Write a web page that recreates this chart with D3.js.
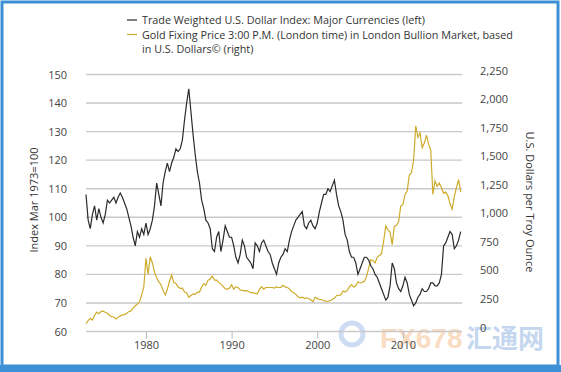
<!DOCTYPE html>
<html>
<head>
<meta charset="utf-8">
<script src="https://cdn.jsdelivr.net/npm/d3@7"></script>
<style>
  body { margin: 0; background: #fff; }
  svg { display: block; font-family: "Open Sans", sans-serif; }
</style>
</head>
<body>
<svg id="chart" width="561" height="372"></svg>
<script>
// quarterly points, first one is 1973 Q1
var startYear = 1973;
var dollarIndex = [
  108, 99, 96, 101,   104, 99, 103, 100,   98, 101, 106, 105,   106, 107, 105, 107,
  108.5, 107, 105, 103,   100, 97, 93, 90,   95, 93, 96, 94,   98, 94, 96, 99,
  104, 112, 108, 104,   112, 116, 119, 116,   119, 121, 124, 123,   124, 127, 134, 140,
  145, 137, 129, 122,   116, 112, 106, 103,   99, 98, 96, 89,   88, 93, 95, 88,
  92, 97, 95, 93,   93, 90, 86, 84,   87, 92, 90, 86,   85, 84, 82, 91,
  90, 88, 91, 92,   90, 88, 87, 84,   82, 80, 84, 86,   87, 89, 88, 92,
  95, 97, 99, 100,   101, 102, 97, 96,   98, 99, 97, 96,   98, 102, 105, 108,
  108, 110, 109, 111,   113, 108, 104, 102,   99, 94, 92, 88,   86, 86, 84, 80,
  82, 84, 86, 86,   85, 83, 82, 80,   79, 77, 75, 73,   71, 72, 76, 84,
  82, 77, 75, 74,   76, 79, 77, 73,   71, 69, 70, 72,   73, 75, 74, 74,
  75, 77, 77, 76,   76, 77, 80, 90,   91, 93, 95, 94,   89, 90, 92, 95
];
var goldPrice = [
  68, 95, 115, 100,   140, 170, 155, 175,   178, 168, 160, 140,   130, 127, 110, 125,
  137, 145, 148, 160,   175, 180, 205, 225,   240, 260, 320, 390,   640, 500, 654, 600,
  520, 470, 435, 410,   360, 320, 370, 440,   494, 430, 420, 390,   378, 380, 345, 340,
  300, 315, 330, 325,   345, 345, 390, 420,   405, 450, 460, 485,   450, 450, 430, 415,
  395, 375, 370, 380,   410, 370, 390, 385,   365, 360, 355, 358,   350, 340, 340, 334,
  330, 370, 392, 370,   385, 385, 385, 385,   380, 390, 385, 385,   405, 390, 385, 375,
  350, 340, 325, 305,   295, 300, 290, 295,   287, 278, 261, 300,   290, 280, 280, 270,
  265, 265, 270, 280,   290, 315, 315, 320,   355, 345, 360, 390,   410, 390, 400, 435,
  425, 430, 440, 480,   555, 630, 620, 600,   650, 665, 680, 790,   925, 890, 870, 760,
  920, 930, 960, 1100,   1110, 1200, 1230, 1370,   1390, 1500, 1800, 1700,   1740, 1610, 1650, 1720,
  1640, 1590, 1200, 1320,   1270, 1300, 1260, 1210,   1220, 1190, 1120, 1070,   1180, 1260, 1330, 1220
];
var yearTicks = [1980, 1990, 2000, 2010];
var leftTicks = [60, 70, 80, 90, 100, 110, 120, 130, 140, 150];
var rightTicks = [0, 250, 500, 750, 1000, 1250, 1500, 1750, 2000, 2250];
var legendLines = [
  "Trade Weighted U.S. Dollar Index: Major Currencies (left)",
  "Gold Fixing Price 3:00 P.M. (London time) in London Bullion Market, based",
  "in U.S. Dollars\u00a9 (right)"
];

var svg = d3.select("#chart");

// blue frame
svg.append("rect")
  .attr("x", 2).attr("y", 2).attr("width", 556).attr("height", 364)
  .attr("fill", "none").attr("stroke", "#3d8fd6").attr("stroke-width", 3);
svg.append("rect")
  .attr("x", 0).attr("y", 365).attr("width", 561).attr("height", 7)
  .attr("fill", "#3d8fd6");

var x = d3.scaleLinear().domain([1973, 2016.9]).range([86, 462]);
var yL = d3.scaleLinear().domain([60, 150]).range([331.5, 74.5]);
var yR = d3.scaleLinear().domain([0, 2250]).range([331.5, 74.5]);

// watermark (drawn under the chart)
var wm = svg.append("g").attr("opacity", 0.45);
wm.append("circle").attr("cx", 352).attr("cy", 334).attr("r", 11)
  .attr("fill", "none").attr("stroke", "#8fb3e3").attr("stroke-width", 5);
wm.append("text").attr("x", 380).attr("y", 348)
  .attr("font-size", 28).attr("font-weight", "bold").attr("fill", "#f5b27a")
  .attr("font-family", "Liberation Sans Narrow, Liberation Sans")
  .text("FX678");
wm.append("text").attr("x", 466).attr("y", 348)
  .attr("font-size", 26).attr("font-weight", "bold").attr("fill", "#7fa7dd")
  .attr("font-family", "Noto Sans CJK SC")
  .text("汇通网");

// gridlines
svg.append("g").selectAll("line")
  .data(leftTicks)
  .enter()
  .append("line")
  .attr("x1", 86).attr("x2", 462)
  .attr("y1", function(d){ return yL(d); })
  .attr("y2", function(d){ return yL(d); })
  .attr("stroke", "#c9c9c9")
  .attr("stroke-width", 1.4);

// x axis
var xAxis = svg.append("g")
  .attr("transform", "translate(0," + yL(60) + ")")
  .call(d3.axisBottom(x).tickValues(yearTicks).tickFormat(d3.format("d")).tickSize(7).tickPadding(3));
xAxis.select(".domain").remove();
xAxis.selectAll("line").attr("stroke", "#bbb");
xAxis.selectAll("text").attr("font-size", 11).attr("fill", "#444").attr("font-family", "Open Sans");

// left axis
var lAxis = svg.append("g")
  .attr("transform", "translate(67,0)")
  .call(d3.axisLeft(yL).tickValues(leftTicks).tickSize(0).tickPadding(0));
lAxis.select(".domain").remove();
lAxis.selectAll("text").attr("font-size", 11).attr("fill", "#444").attr("font-family", "Open Sans");

// right axis
var rAxis = svg.append("g")
  .attr("transform", "translate(480,-4)")
  .call(d3.axisRight(yR).tickValues(rightTicks).tickFormat(d3.format(",")).tickSize(0).tickPadding(0));
rAxis.select(".domain").remove();
rAxis.selectAll("text").attr("font-size", 11).attr("fill", "#444").attr("font-family", "Open Sans");

// axis titles
svg.append("text")
  .attr("transform", "translate(38,200) rotate(-90)")
  .attr("text-anchor", "middle")
  .attr("font-size", 11).attr("fill", "#333")
  .text("Index Mar 1973=100");
svg.append("text")
  .attr("transform", "translate(526,202) rotate(90)")
  .attr("text-anchor", "middle")
  .attr("font-size", 11).attr("fill", "#333")
  .text("U.S. Dollars per Troy Ounce");

// lines
var toPoints = function(arr){
  return arr.map(function(v, i){ return {t: startYear + i * 0.25, v: v}; });
};
var goldLine = d3.line().x(function(d){ return x(d.t); }).y(function(d){ return yR(d.v); });
var dollarLine = d3.line().x(function(d){ return x(d.t); }).y(function(d){ return yL(d.v); });

svg.append("path")
  .datum(toPoints(goldPrice))
  .attr("d", goldLine)
  .attr("fill", "none")
  .attr("stroke", "#cfab2c")
  .attr("stroke-width", 1.2);
svg.append("path")
  .datum(toPoints(dollarIndex))
  .attr("d", dollarLine)
  .attr("fill", "none")
  .attr("stroke", "#2b2b2b")
  .attr("stroke-width", 1.2);

// legend
var legend = svg.append("g");
legend.selectAll("text")
  .data(legendLines)
  .enter()
  .append("text")
  .attr("x", 142)
  .attr("y", function(d, i){ return 24 + i * 14.5; })
  .attr("font-size", 10.8)
  .attr("fill", "#333")
  .text(function(d){ return d; });
legend.append("line")
  .attr("x1", 127).attr("x2", 137).attr("y1", 20).attr("y2", 20)
  .attr("stroke", "#2b2b2b").attr("stroke-width", 1.2);
legend.append("line")
  .attr("x1", 127).attr("x2", 137).attr("y1", 34.5).attr("y2", 34.5)
  .attr("stroke", "#cfab2c").attr("stroke-width", 1.2);
</script>
</body>
</html>
